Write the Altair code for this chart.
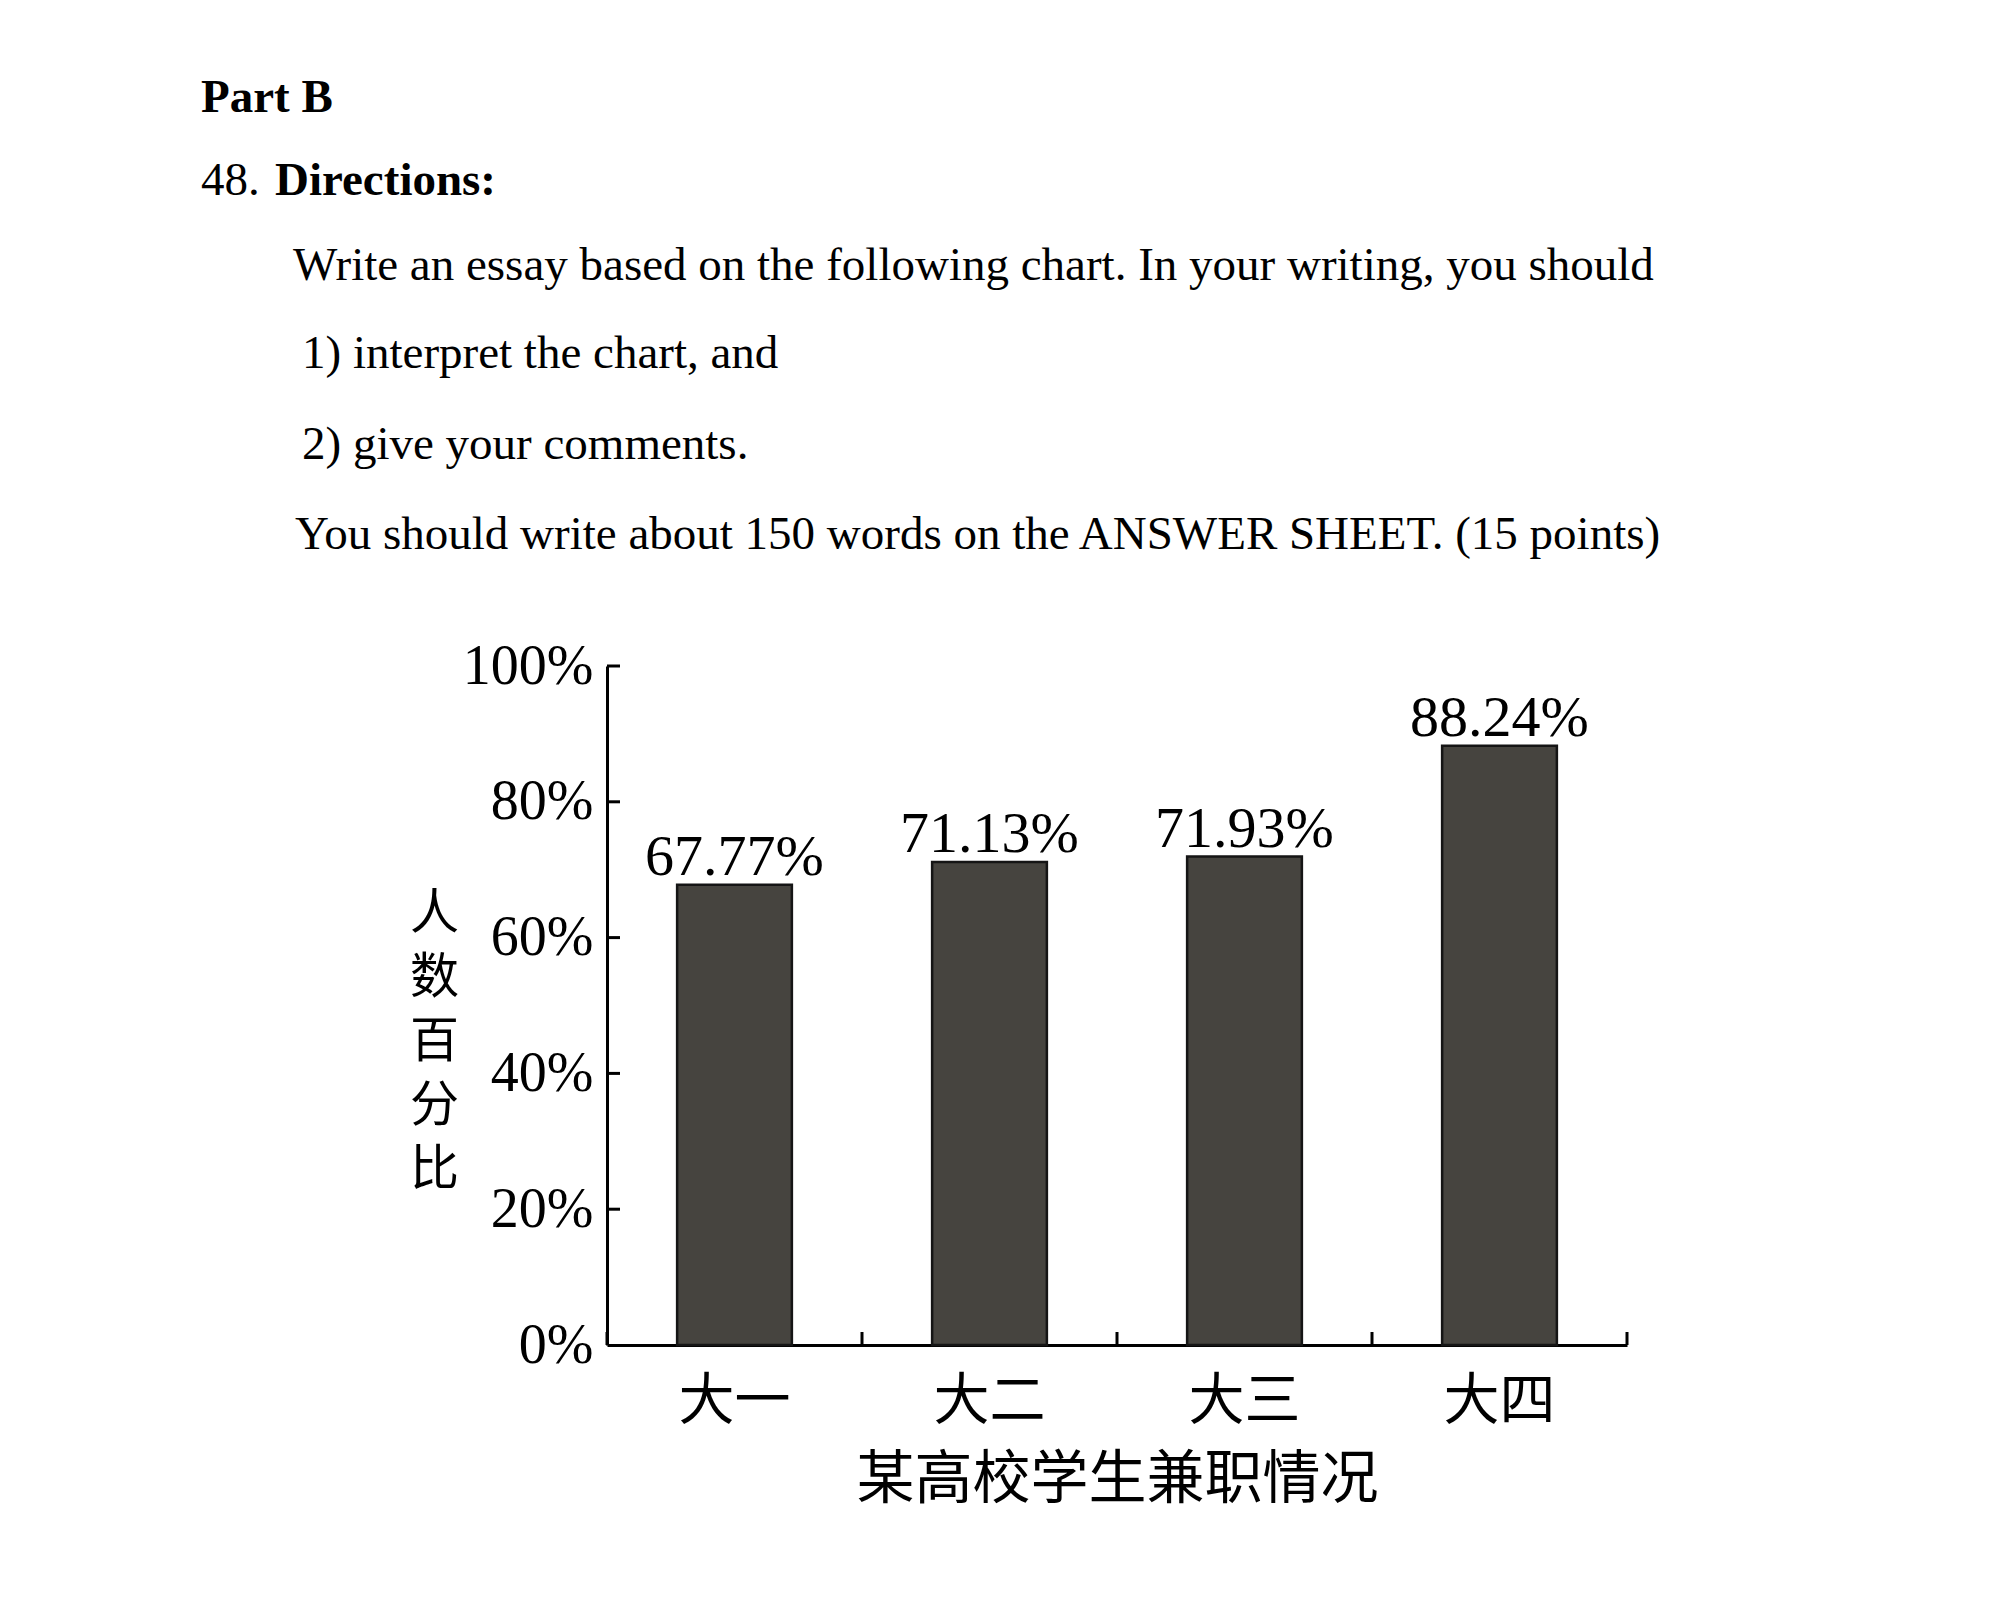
import altair as alt
import pandas as pd

# ---- data ----
categories = ["大一", "大二", "大三", "大四"]
values = [67.77, 71.13, 71.93, 88.24]
value_labels = ["67.77%", "71.13%", "71.93%", "88.24%"]
y_tick_values = [0, 20, 40, 60, 80, 100]
x_title = "某高校学生兼职情况"
y_title = ["人", "数", "百", "分", "比"]

part_title = "Part B"
q_number = "48."
q_heading = "Directions:"
line_1 = "Write an essay based on the following chart. In your writing, you should"
line_2 = "1) interpret the chart, and"
line_3 = "2) give your comments."
line_4 = "You should write about 150 words on the ANSWER SHEET. (15 points)"

W, H = 1020, 679
SERIF = "Liberation Serif"
CJK = "Noto Sans CJK SC"

df = pd.DataFrame({"cat": categories, "val": values, "label": value_labels})

x_axis = alt.Axis(
    title=x_title,
    labelFont=CJK, labelFontSize=56, labelColor="black", labelPadding=29,
    labelAngle=0,
    titleFont=CJK, titleFontSize=58, titleFontWeight="normal", titleColor="black",
    titlePadding=22,
    ticks=False, domainColor="black", domainWidth=3, grid=False,
)
y_axis = alt.Axis(
    values=y_tick_values,
    labelExpr="datum.value + '%'",
    labelFont=SERIF, labelFontSize=56, labelColor="black", labelPadding=14,
    ticks=False, domainColor="black", domainWidth=3, grid=False,
    title=y_title, titleAngle=0, titleFont=CJK, titleFontSize=49,
    titleFontWeight="normal", titleColor="black", titleLineHeight=64,
    titleAlign="center", titleBaseline="middle", titleX=-173, titleY=247,
)

x_enc = alt.X("cat:N", sort=categories,
              scale=alt.Scale(paddingInner=0, paddingOuter=0), axis=x_axis)
y_enc = alt.Y("val:Q", scale=alt.Scale(domain=[0, 100], nice=False), axis=y_axis)

base = alt.Chart(df)

bars = base.mark_bar(
    color="#46443f", stroke="#151515", strokeWidth=2.5,
    width=alt.RelativeBandSize(0.45),
).encode(x=x_enc, y=y_enc)

labels = base.mark_text(
    font=SERIF, fontSize=58, color="black", baseline="alphabetic", dy=-10,
).encode(x=x_enc, y=y_enc, text="label:N")

y_ticks = alt.Chart(pd.DataFrame({"val": y_tick_values[1:]})).mark_rule(
    color="black", strokeWidth=3
).encode(y=y_enc, x=alt.value(0), x2=alt.value(13))

x_ticks = base.mark_rule(color="black", strokeWidth=3).encode(
    x=alt.X("cat:N", sort=categories, bandPosition=0,
            scale=alt.Scale(paddingInner=0, paddingOuter=0), axis=x_axis),
    y=alt.value(H),
    y2=alt.value(H - 13),
)

end_tick = alt.Chart(pd.DataFrame({"a": [0]})).mark_rule(
    color="black", strokeWidth=3
).encode(x=alt.value(W), y=alt.value(H), y2=alt.value(H - 13))


def page_text(txt, x, y, bold=False):
    return alt.Chart(pd.DataFrame({"t": [txt]})).mark_text(
        align="left", baseline="alphabetic", font=SERIF, fontSize=47,
        fontWeight="bold" if bold else "normal", color="black",
    ).encode(text="t:N", x=alt.value(x), y=alt.value(y))


header = [
    page_text(part_title, -406, -554, bold=True),
    page_text(q_number, -406, -471),
    page_text(q_heading, -332, -471, bold=True),
    page_text(line_1, -314, -386),
    page_text(line_2, -305, -298),
    page_text(line_3, -305, -207),
    page_text(line_4, -312, -117),
]

chart = alt.layer(bars, labels, y_ticks, x_ticks, end_tick, *header).properties(
    width=W,
    height=H,
    padding={"left": 607, "top": 666, "right": 385, "bottom": 255},
    autosize=alt.AutoSizeParams(type="none"),
    background="white",
).configure_view(stroke=None)

chart.save("out.html", embed_options={"renderer": "svg", "actions": False})
